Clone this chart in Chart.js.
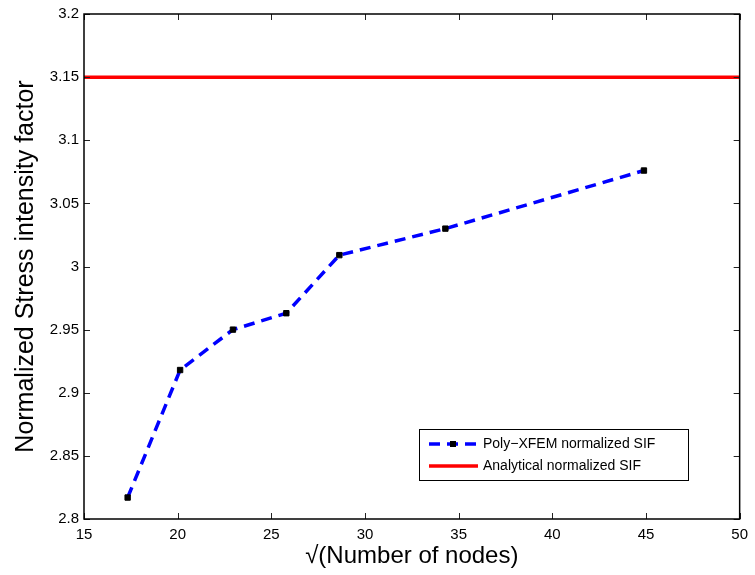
<!DOCTYPE html>
<html>
<head>
<meta charset="utf-8">
<script src="https://cdn.jsdelivr.net/npm/chart.js@4/dist/chart.umd.min.js"></script>
<style>
  html, body { margin: 0; padding: 0; background: #fff; }
  #wrap { width: 755px; height: 575px; }
</style>
</head>
<body>
<div id="wrap"><canvas id="sifChart" width="755" height="575"></canvas></div>
<script>
// --- data: sqrt(number of nodes) vs normalized SIF ---
const sqrtNodes = [17.33, 20.13, 22.95, 25.8, 28.63, 34.29, 44.89];
const polyXfemSif = [2.817, 2.918, 2.950, 2.963, 3.009, 3.030, 3.076];
const analyticalX = [15, 50];
const analyticalSif = [3.15, 3.15];

const xTicks = [15, 20, 25, 30, 35, 40, 45, 50];
const xTickLabels = ["15", "20", "25", "30", "35", "40", "45", "50"];
const yTicks = [2.8, 2.85, 2.9, 2.95, 3, 3.05, 3.1, 3.15, 3.2];
const yTickLabels = ["2.8", "2.85", "2.9", "2.95", "3", "3.05", "3.1", "3.15", "3.2"];

const seriesNames = ["Poly\u2212XFEM normalized SIF", "Analytical normalized SIF"];

const FONT = "'Liberation Sans', Arial, Helvetica, sans-serif";
const BLUE = "#0000ff";
const RED = "#ff0000";

// box + inward ticks on all four sides, matlab style
const boxAxes = {
  id: "boxAxes",
  afterDatasetsDraw(chart) {
    const { ctx, chartArea: a, scales: { x, y } } = chart;
    const len = 6;
    ctx.save();
    ctx.strokeStyle = "#222";
    ctx.lineWidth = 1;
    ctx.beginPath();
    x.ticks.forEach(t => {
      const px = Math.round(x.getPixelForValue(t.value)) + 0.5;
      ctx.moveTo(px, a.bottom); ctx.lineTo(px, a.bottom - len);
      ctx.moveTo(px, a.top); ctx.lineTo(px, a.top + len);
    });
    y.ticks.forEach(t => {
      const py = Math.round(y.getPixelForValue(t.value)) + 0.5;
      ctx.moveTo(a.left, py); ctx.lineTo(a.left + len, py);
      ctx.moveTo(a.right, py); ctx.lineTo(a.right - len, py);
    });
    ctx.stroke();
    ctx.strokeStyle = "#000";
    ctx.lineWidth = 1.5;
    ctx.strokeRect(a.left, a.top, a.width, a.height);
    ctx.restore();
  }
};

// legend box in the lower right of the axes
const boxLegend = {
  id: "boxLegend",
  afterDraw(chart) {
    const { ctx } = chart;
    const bx = 419, by = 429, bw = 269, bh = 51;
    ctx.save();
    ctx.fillStyle = "#fff";
    ctx.fillRect(bx, by, bw, bh);
    ctx.strokeStyle = "#000";
    ctx.lineWidth = 1;
    ctx.strokeRect(bx + 0.5, by + 0.5, bw, bh);

    const rows = [by + 15, by + 37];
    // dashed sample with marker
    ctx.lineWidth = 3.5;
    ctx.strokeStyle = BLUE;
    ctx.setLineDash([11, 7]);
    ctx.beginPath();
    ctx.moveTo(429, rows[0]); ctx.lineTo(478, rows[0]);
    ctx.stroke();
    ctx.setLineDash([]);
    ctx.fillStyle = "#000";
    ctx.fillRect(450, rows[0] - 3, 6, 6);
    // solid sample
    ctx.strokeStyle = RED;
    ctx.beginPath();
    ctx.moveTo(429, rows[1]); ctx.lineTo(478, rows[1]);
    ctx.stroke();

    ctx.fillStyle = "#000";
    ctx.font = "14px " + FONT;
    ctx.textBaseline = "middle";
    ctx.textAlign = "left";
    ctx.fillText(seriesNames[0], 483, rows[0]);
    ctx.fillText(seriesNames[1], 483, rows[1]);
    ctx.restore();
  }
};

const polyPoints = sqrtNodes.map((v, i) => ({ x: v, y: polyXfemSif[i] }));
const analyticalPoints = analyticalX.map((v, i) => ({ x: v, y: analyticalSif[i] }));

new Chart(document.getElementById("sifChart"), {
  type: "line",
  data: {
    datasets: [
      {
        label: seriesNames[0],
        data: polyPoints,
        borderColor: BLUE,
        borderWidth: 3.5,
        borderDash: [11, 7],
        tension: 0,
        pointStyle: "rect",
        pointRadius: 3.8,
        pointBorderWidth: 1,
        pointBackgroundColor: "#000",
        pointBorderColor: "#000"
      },
      {
        label: seriesNames[1],
        data: analyticalPoints,
        borderColor: RED,
        borderWidth: 3.5,
        pointRadius: 0
      }
    ]
  },
  options: {
    responsive: false,
    animation: false,
    devicePixelRatio: 1,
    layout: { padding: { left: 0, right: 11, top: 14, bottom: 0 } },
    plugins: {
      legend: { display: false },
      tooltip: { enabled: false }
    },
    scales: {
      x: {
        type: "linear",
        min: 15,
        max: 50,
        afterBuildTicks: s => { s.ticks = xTicks.map(v => ({ value: v })); },
        afterFit: s => { s.height = 56; },
        grid: { display: false, drawTicks: false },
        border: { display: false },
        ticks: {
          padding: 7,
          color: "#000",
          maxRotation: 0,
          font: { family: FONT, size: 15 },
          callback: (v, i) => xTickLabels[i]
        },
        title: {
          display: true,
          text: "\u221A(Number of nodes)",
          color: "#000",
          font: { family: FONT, size: 24 },
          padding: { top: 0, bottom: 4 }
        }
      },
      y: {
        type: "linear",
        min: 2.8,
        max: 3.2,
        afterBuildTicks: s => { s.ticks = yTicks.map(v => ({ value: v })); },
        afterFit: s => { s.width = 84; },
        grid: { display: false, drawTicks: false },
        border: { display: false },
        ticks: {
          padding: 5,
          color: "#000",
          font: { family: FONT, size: 15 },
          callback: (v, i) => yTickLabels[i]
        },
        title: {
          display: true,
          text: "Normalized Stress intensity factor",
          color: "#000",
          font: { family: FONT, size: 25 },
          padding: { top: 11, bottom: 0 }
        }
      }
    }
  },
  plugins: [boxAxes, boxLegend]
});
</script>
</body>
</html>
